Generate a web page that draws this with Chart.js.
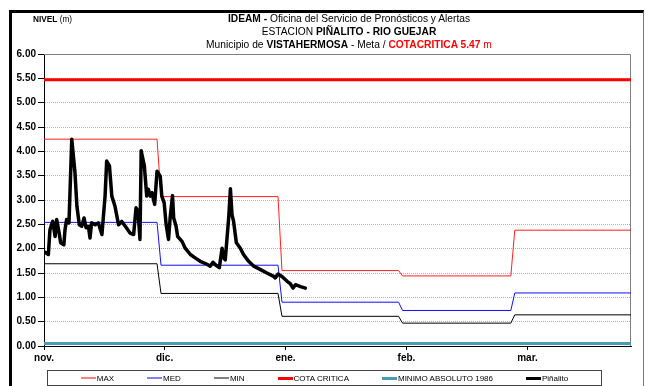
<!DOCTYPE html>
<html>
<head>
<meta charset="utf-8">
<script src="https://cdn.jsdelivr.net/npm/chart.js@4.4.0/dist/chart.umd.min.js"></script>
<style>
  html, body { margin: 0; padding: 0; background: #fff; }
  #wrap { position: relative; width: 646px; height: 386px; overflow: hidden;
          font-family: "Liberation Sans Narrow", "Arial Narrow", "Liberation Sans", Arial, sans-serif; color: #000; }
  #frame { position: absolute; left: 9px; top: 10px; width: 631px; height: 400px;
           border-left: 3px solid #000; border-top: 3px solid #000; border-right: 1px solid #777; }
  canvas { position: absolute; left: 0; top: 0; }
  .hdr { position: absolute; left: 149px; width: 400px; text-align: center; font-size: 11px; line-height: 13px;
         white-space: nowrap; transform: scaleX(0.93); transform-origin: 200px 0; }
  .red { color: #ff0000; }
  #nivel { position: absolute; left: 33px; top: 13px; font-size: 9px; line-height: 12px; transform: scaleX(0.92); transform-origin: 0 0; }
  #legend { position: absolute; left: 47px; top: 370px; width: 553px; height: 14px; border: 1px solid #444;
            display: flex; justify-content: center; align-items: center; gap: 33px; font-size: 8px; }
  .item { display: flex; align-items: center; }
  .sw { display: inline-block; width: 15px; height: 2px; margin-right: 1px; }
  .sw.thick { height: 3px; }
</style>
</head>
<body>
<div id="wrap">
  <div id="frame"></div>
  <canvas id="nivelChart" width="646" height="386"></canvas>
  <div id="nivel"><b>NIVEL</b> (m)</div>
  <div class="hdr" style="top:12px"><b>IDEAM -</b> Oficina del Servicio de Pronósticos y Alertas</div>
  <div class="hdr" style="top:25px">ESTACION <b>PIÑALITO - RIO GUEJAR</b></div>
  <div class="hdr" style="top:38px">Municipio de <b>VISTAHERMOSA</b> - Meta / <span class="red"><b>COTACRITICA 5.47</b> m</span></div>
  <div id="legend"></div>
</div>
<script>
// months on the x axis (x unit = days from 1 nov.)
const monthLabels = ['nov.', 'dic.', 'ene.', 'feb.', 'mar.'];
const monthTickDay = [0, 30.4, 60.9, 91.4, 121.9];
const monthStartDay = [0, 29.5, 60, 90.4, 118.7];
const lastDay = 148;

// monthly historical levels (m)
const maxLevel = [4.25, 3.07, 1.55, 1.44, 2.38];
const medLevel = [2.54, 1.66, 0.90, 0.73, 1.09];
const minLevel = [1.69, 1.08, 0.61, 0.47, 0.64];
const cotaCritica = 5.47;
const minimoAbsoluto = 0.05;

// Piñalito readings
const pinalitoDay = [0, 1.1, 1.5, 2.2, 2.8, 3.2, 3.8, 4.2, 5.0, 5.3, 5.7, 6.3, 7.0, 7.8, 8.3, 8.9, 9.5, 10.1, 10.6, 11.2,
  11.6, 12.0, 12.9, 13.7, 14.6, 15.4, 15.8, 16.5, 17.1, 17.9, 18.8, 19.6, 20.5, 21.7, 22.6, 23.2, 23.7, 24.2, 24.5, 25.3,
  25.9, 26.3, 26.8, 27.2, 27.9, 28.5, 29.3, 29.7, 30.3, 30.8, 31.4, 31.8, 32.4, 32.7, 33.3, 33.7, 34.8, 35.6, 36.9, 38.1,
  39.4, 41.1, 41.9, 42.6, 43.2, 44.2, 44.9, 45.3, 45.7, 46.6, 47.0, 47.4, 47.8, 48.5, 49.5, 50.3, 51.6, 52.9, 54.6, 56.2,
  57.9, 58.3, 59.0, 60.0, 61.3, 62.1, 62.8, 63.4, 64.7, 65.9];
const pinalitoLevel = [1.94, 1.88, 2.39, 2.56, 2.25, 2.60, 2.33, 2.12, 2.08, 2.39, 2.60, 2.53, 4.25, 3.57, 2.87, 2.49, 2.46, 2.63, 2.43, 2.46,
  2.22, 2.53, 2.49, 2.53, 2.29, 3.08, 3.80, 3.70, 3.08, 2.87, 2.49, 2.56, 2.46, 2.32, 2.29, 2.84, 2.77, 2.19, 4.01, 3.70,
  3.08, 3.22, 3.08, 3.15, 2.91, 3.59, 3.49, 3.08, 2.94, 2.49, 2.19, 2.63, 3.09, 2.63, 2.46, 2.25, 2.15, 2.01, 1.88, 1.81,
  1.74, 1.68, 1.64, 1.72, 1.67, 1.61, 2.01, 1.81, 1.77, 2.67, 3.23, 2.70, 2.56, 2.12, 2.01, 1.88, 1.74, 1.64, 1.57, 1.50,
  1.43, 1.40, 1.48, 1.43, 1.33, 1.28, 1.19, 1.26, 1.22, 1.19];

// one flat segment per month, stepping over a day to the next month
function stepPoints(levels) {
  const pts = [];
  levels.forEach((v, i) => {
    const end = i < levels.length - 1 ? monthStartDay[i + 1] - 1 : lastDay;
    pts.push({ x: monthStartDay[i], y: v }, { x: end, y: v });
  });
  return pts;
}

function flat(v) {
  return [{ x: 0, y: v }, { x: lastDay, y: v }];
}

const series = [
  { label: 'MAX', data: stepPoints(maxLevel), color: '#ff2020', width: 1, swatch: '#ff8080', order: 4 },
  { label: 'MED', data: stepPoints(medLevel), color: '#1010ff', width: 1, swatch: '#7f7fff', order: 3 },
  { label: 'MIN', data: stepPoints(minLevel), color: '#000000', width: 1, swatch: '#808080', order: 2 },
  { label: 'COTA CRITICA', data: flat(cotaCritica), color: '#ff0000', width: 3, swatch: '#ff0000', order: 5 },
  { label: 'MINIMO ABSOLUTO 1986', data: flat(minimoAbsoluto), color: '#4a9cb4', width: 3, swatch: '#4a9cb4', order: 6 },
  { label: 'Piñalito', data: pinalitoDay.map((d, i) => ({ x: d, y: pinalitoLevel[i] })), color: '#000000', width: 3.5, swatch: '#000000', order: 0 }
];

// gray top/right edge of the plot area
const plotFrame = {
  id: 'plotFrame',
  beforeDatasetsDraw(chart) {
    const { ctx, chartArea: a } = chart;
    ctx.save();
    ctx.strokeStyle = '#808080';
    ctx.lineWidth = 1;
    ctx.beginPath();
    ctx.moveTo(a.left, a.top + 0.5);
    ctx.lineTo(a.right - 0.5, a.top + 0.5);
    ctx.lineTo(a.right - 0.5, a.bottom);
    ctx.stroke();
    ctx.restore();
  }
};

const tickFont = { family: '"Liberation Sans", Arial, sans-serif', size: 10, weight: 'bold' };

new Chart(document.getElementById('nivelChart'), {
  type: 'line',
  data: {
    datasets: series.map(s => ({
      label: s.label,
      data: s.data,
      borderColor: s.color,
      backgroundColor: s.color,
      borderWidth: s.width,
      borderJoinStyle: 'round',
      borderCapStyle: 'round',
      pointRadius: 0,
      tension: 0,
      fill: false,
      order: s.order
    }))
  },
  options: {
    responsive: false,
    animation: false,
    layout: { padding: { left: 0, right: 15, top: 54, bottom: 20 } },
    plugins: {
      legend: { display: false },
      tooltip: { enabled: false }
    },
    scales: {
      x: {
        type: 'linear',
        min: 0,
        max: lastDay,
        afterBuildTicks: axis => { axis.ticks = monthTickDay.map(v => ({ value: v })); },
        afterFit: axis => { axis.height = 20; },
        ticks: {
          autoSkip: false,
          maxRotation: 0,
          color: '#000',
          font: tickFont,
          padding: 2,
          callback: (v, i) => monthLabels[i]
        },
        grid: { drawOnChartArea: false, tickLength: 4, color: '#000' },
        border: { color: '#000', width: 1 }
      },
      y: {
        min: 0,
        max: 6,
        afterFit: axis => { axis.width = 44; },
        ticks: {
          stepSize: 0.5,
          color: '#000',
          font: tickFont,
          padding: 2,
          callback: v => v.toFixed(2)
        },
        grid: { color: '#b4b4b4', lineWidth: 1, tickLength: 6, tickColor: '#000' },
        border: { color: '#000', width: 1, dash: [1, 1] }
      }
    }
  },
  plugins: [plotFrame]
});

// legend row under the plot
const legend = document.getElementById('legend');
series.forEach(s => {
  const item = document.createElement('span');
  item.className = 'item';
  const sw = document.createElement('span');
  sw.className = 'sw' + (s.width > 1 ? ' thick' : '');
  sw.style.background = s.swatch;
  item.appendChild(sw);
  item.appendChild(document.createTextNode(s.label));
  legend.appendChild(item);
});
</script>
</body>
</html>
